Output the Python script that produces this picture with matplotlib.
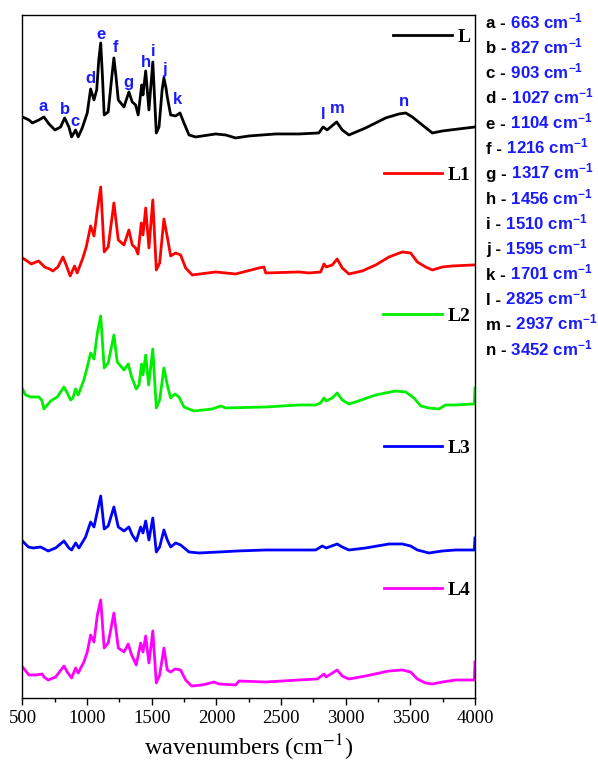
import matplotlib
matplotlib.use("Agg")
import matplotlib.pyplot as plt
from matplotlib.legend import Legend
from matplotlib.ticker import MultipleLocator

plt.rcParams['font.family'] = ['Liberation Serif', 'DejaVu Serif']
plt.rcParams['mathtext.fontset'] = 'custom'
plt.rcParams['mathtext.rm'] = 'Liberation Sans:bold'
plt.rcParams['mathtext.it'] = 'Liberation Sans:bold:italic'
plt.rcParams['mathtext.bf'] = 'Liberation Sans:bold'

names = ['L', 'L1', 'L2', 'L3', 'L4']
colors = ['black', '#ff0000', '#00ee00', '#0000ff', '#ff00ff']

# spectra (wavenumber, stacked intensity a.u.)
wn_L = [500, 550, 576, 627, 666, 705, 751, 795, 826, 859, 880, 911, 931, 962, 1001, 1027, 1053, 1074,
        1090, 1105, 1118, 1132, 1163, 1190, 1207, 1222, 1241, 1285, 1323, 1349, 1375, 1395, 1422, 1432,
        1453, 1478, 1508, 1535, 1556, 1580, 1594, 1610, 1620, 1646, 1685, 1718, 1749, 1788, 1839, 1994,
        2071, 2149, 2252, 2458, 2639, 2792, 2825, 2856, 2930, 2973, 3025, 3154, 3309, 3412, 3464, 3515,
        3592, 3670, 3748, 4000]
y_L = [583, 580, 577, 580, 583, 576, 570, 573, 582, 573, 563, 570, 563, 572, 587, 611, 600, 610,
       640, 657, 625, 585, 588, 622, 642, 625, 600, 593, 608, 598, 595, 585, 615, 605,
       629, 590, 638, 567, 573, 610, 622, 612, 603, 585, 584, 587, 577, 565, 563, 566,
       565, 562, 564, 566, 566, 567, 573, 570, 578, 570, 565, 572, 582, 586, 587, 583,
       575, 567, 569, 573]

wn_L1 = [500, 524, 568, 625, 671, 710, 735, 774, 813, 838, 869, 903, 923, 967, 993, 1027, 1053, 1079,
         1105, 1132, 1163, 1207, 1241, 1285, 1323, 1349, 1375, 1393, 1419, 1432, 1453, 1478, 1508, 1535,
         1561, 1594, 1620, 1646, 1685, 1723, 1762, 1813, 1994, 2149, 2329, 2368, 2381, 2639, 2716, 2806,
         2832, 2849, 2896, 2934, 2973, 3025, 3128, 3232, 3335, 3438, 3502, 3554, 3618, 3670, 3748, 3825,
         3990, 4000]
y_L1 = [442, 440, 436, 439, 433, 431, 429, 433, 443, 435, 424, 434, 427, 442, 453, 474, 464, 490,
        513, 448, 453, 497, 460, 455, 470, 455, 452, 446, 477, 465, 492, 452, 500, 430,
        437, 481, 463, 444, 447, 445, 432, 425, 428, 426, 432, 433, 427, 428, 427, 428,
        436, 433, 435, 441, 432, 426, 429, 435, 443, 448, 447, 438, 433, 430, 433, 434,
        435, 435]

wn_L2 = [500, 524, 563, 627, 648, 666, 718, 769, 821, 846, 872, 890, 911, 931, 975, 1001, 1027, 1053,
         1079, 1105, 1132, 1163, 1207, 1233, 1285, 1318, 1344, 1380, 1401, 1422, 1432, 1453, 1476, 1508,
         1535, 1561, 1594, 1620, 1646, 1680, 1710, 1749, 1826, 1968, 2033, 2071, 2381, 2639, 2768, 2806,
         2832, 2849, 2896, 2934, 2973, 3025, 3076, 3232, 3386, 3464, 3528, 3580, 3644, 3721, 3773, 3851,
         3980, 3995, 4000]
y_L2 = [311, 305, 303, 303, 300, 291, 299, 303, 313, 307, 300, 302, 311, 305, 320, 333, 347, 341,
        367, 384, 332, 337, 365, 338, 330, 336, 323, 311, 315, 336, 325, 345, 315, 351,
        292, 300, 332, 315, 302, 306, 303, 293, 289, 291, 294, 292, 293, 295, 295, 297,
        302, 299, 302, 307, 300, 296, 298, 305, 309, 308, 302, 294, 292, 291, 295, 295,
        296, 296, 312]

wn_L3 = [500, 545, 584, 640, 699, 756, 821, 859, 880, 911, 937, 988, 1027, 1053, 1105, 1132, 1163, 1207,
         1241, 1285, 1323, 1349, 1380, 1414, 1432, 1453, 1478, 1508, 1535, 1561, 1594, 1620, 1646, 1685,
         1723, 1788, 1865, 2020, 2162, 2381, 2639, 2768, 2819, 2849, 2934, 2973, 3025, 3154, 3335, 3438,
         3502, 3554, 3644, 3748, 3851, 3980, 3995, 4000]
y_L3 = [159, 153, 152, 153, 149, 152, 159, 152, 150, 157, 152, 163, 178, 173, 204, 171, 174, 193,
        173, 169, 173, 165, 159, 173, 167, 179, 160, 182, 148, 153, 170, 160, 153, 157,
        155, 148, 147, 148, 149, 150, 150, 150, 154, 152, 156, 153, 150, 152, 156, 156,
        154, 150, 147, 149, 150, 150, 150, 162]

wn_L4 = [500, 519, 550, 602, 653, 666, 699, 756, 821, 846, 880, 911, 931, 975, 1001, 1027, 1053, 1079,
         1105, 1132, 1163, 1207, 1241, 1285, 1318, 1344, 1380, 1414, 1432, 1453, 1478, 1508, 1535, 1561,
         1594, 1620, 1646, 1680, 1723, 1762, 1808, 1891, 1981, 2020, 2149, 2175, 2381, 2639, 2781, 2832,
         2849, 2934, 2973, 3025, 3154, 3335, 3438, 3502, 3554, 3618, 3670, 3748, 3851, 3980, 3995, 4000]
y_L4 = [33, 30, 25, 25, 26, 23, 20, 23, 34, 28, 22, 32, 27, 38, 48, 65, 58, 85,
        100, 52, 57, 87, 52, 48, 56, 45, 35, 57, 48, 64, 37, 69, 17, 25,
        52, 30, 28, 31, 30, 20, 14, 15, 18, 16, 15, 19, 18, 20, 21, 26,
        23, 30, 24, 21, 24, 29, 30, 28, 21, 17, 16, 18, 20, 20, 20, 38]

peak_letters = ['a', 'b', 'c', 'd', 'e', 'f', 'g', 'h', 'i', 'j', 'k', 'l', 'm', 'n']
peak_wn = [663, 827, 903, 1027, 1104, 1216, 1317, 1456, 1510, 1595, 1701, 2825, 2937, 3452]
peak_label_y = [593, 590, 578, 621, 665, 652, 617, 637, 648, 630, 600, 585, 591, 598]

wn_all = [wn_L, wn_L1, wn_L2, wn_L3, wn_L4]
y_all = [y_L, y_L1, y_L2, y_L3, y_L4]

fig = plt.figure(figsize=(5.98, 7.63), dpi=100)
ax = fig.add_axes([0.0376, 0.0852, 0.7567, 0.8952])

lines = []
for wn, y, c in zip(wn_all, y_all, colors):
    lines.append(ax.plot(wn, y, color=c, lw=2.0, solid_joinstyle='round')[0])

# peak letters above curve L
for letter, wn, ly in zip(peak_letters, peak_wn, peak_label_y):
    ax.text(wn, ly, letter, color='#1a1aff', fontsize=12, fontweight='bold',
            family='Liberation Sans', ha='center', va='center')

# one small legend next to each curve
legend_y = [0.968, 0.766, 0.559, 0.366, 0.158]
for line, name, ly in zip(lines, names, legend_y):
    leg = Legend(ax, [line], [name], loc='center right', bbox_to_anchor=(0.99, ly),
                 frameon=False, handlelength=3.0, handletextpad=0.3, borderpad=0,
                 borderaxespad=0, prop=dict(family='Liberation Serif', weight='bold', size=14))
    ax.add_artist(leg)

ax.set_xlim(500, 4000)
ax.set_ylim(2, 685)
ax.set_yticks([])
ax.xaxis.set_major_locator(MultipleLocator(500))
ax.xaxis.set_minor_locator(MultipleLocator(250))
ax.tick_params(axis='x', which='major', direction='out', length=5, width=1, labelsize=13.5, pad=4)
ax.tick_params(axis='x', which='minor', direction='out', length=3, width=1)
for sp in ax.spines.values():
    sp.set_linewidth(1.0)
ax.set_xlabel('wavenumbers (cm$^{-1}$)', fontsize=17.5, math_fontfamily='stix', labelpad=4)

# peak list on the right, letter in black and value in blue
fig.canvas.draw()
renderer = fig.canvas.get_renderer()
for i, (letter, wn) in enumerate(zip(peak_letters, peak_wn)):
    ty = 1 - (28 + i * 25.15) / 763
    t = fig.text(0.8127, ty, letter + ' -', color='black', fontsize=12.2, fontweight='bold',
                 family='Liberation Sans', va='baseline')
    bb = t.get_window_extent(renderer)
    fig.text(bb.x1 / fig.bbox.width, ty, ' %d cm$^{-1}$' % wn, color='#1a1aff', fontsize=12.2,
             fontweight='bold', family='Liberation Sans', va='baseline')

fig.savefig('out.png', dpi=100)
